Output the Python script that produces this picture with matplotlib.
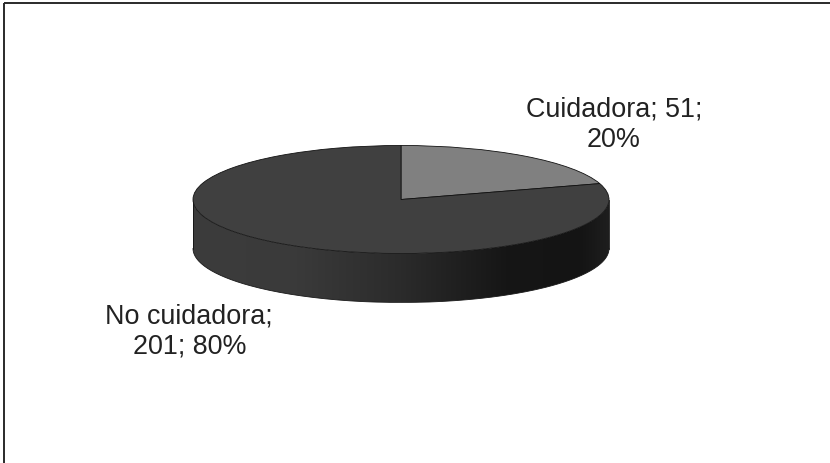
import numpy as np
import matplotlib
matplotlib.use("Agg")
import matplotlib.pyplot as plt
from matplotlib.colors import LinearSegmentedColormap
from matplotlib.patches import Polygon

plt.rcParams['font.family'] = ['Liberation Sans', 'DejaVu Sans']

categories = ["Cuidadora", "No cuidadora"]
values = [51, 201]
percents = [20, 80]
slice_colors = ["#808080", "#404040"]

W, H = 830, 464
cx, cy = 401, 200.5    # centre of the pie top
rx, ry = 208, 54       # radii of the flattened ellipse
depth = 49

fig = plt.figure(figsize=(W / 100, H / 100), dpi=100)
ax = fig.add_axes([0, 0, 1, 1])
ax.set_xlim(0, W)
ax.set_ylim(H, 0)
ax.axis("off")

# outer frame, only top and left are visible
ax.plot([4, 4], [H, 4], color="#2a2a2a", lw=1.4, solid_capstyle="butt")
ax.plot([4, W], [4, 4], color="#2a2a2a", lw=1.4, solid_capstyle="butt")

# side wall of the pie with a horizontal shading
t = np.linspace(0, np.pi, 200)
ex = cx + rx * np.cos(t)
ey = cy + ry * np.sin(t)
wall = np.concatenate([
    np.column_stack([ex, ey + depth]),
    np.column_stack([ex[::-1], ey[::-1]]),
])
shade = LinearSegmentedColormap.from_list("wall", [
    (0.0, "#3c3c3c"), (0.25, "#3a3a3a"), (0.5, "#2b2b2b"),
    (0.75, "#161616"), (0.93, "#141414"), (1.0, "#1e1e1e"),
])
im = ax.imshow(np.linspace(0, 1, 256).reshape(1, -1), cmap=shade, aspect="auto",
               extent=[cx - rx, cx + rx, cy + ry + depth, cy - ry], zorder=2)
ax.set_xlim(0, W)
ax.set_ylim(H, 0)
clip = Polygon(wall, closed=True, transform=ax.transData, fc="none", ec="none")
ax.add_patch(clip)
im.set_clip_path(clip)
ax.plot(np.r_[ex[0], ex[0]], [cy, cy + depth], color="#111111", lw=0.6, zorder=3)
ax.plot(np.r_[ex[-1], ex[-1]], [cy, cy + depth], color="#111111", lw=0.6, zorder=3)
ax.plot(ex, ey + depth, color="#1a1a1a", lw=0.6, zorder=3)

# pie top, stretched by an axes with free aspect
top = fig.add_axes([(cx - rx) / W, 1 - (cy + ry) / H, 2 * rx / W, 2 * ry / H])
top.pie(values, colors=slice_colors, startangle=90, counterclock=False, radius=1,
        wedgeprops={"edgecolor": "#111111", "linewidth": 0.6})
top.set_aspect("auto")
top.set_xlim(-1, 1)
top.set_ylim(-1, 1)
for w in top.patches:
    w.set_clip_on(False)
top.patch.set_alpha(0)

# labels
ax.text(614, 110, f"{categories[0]}; {values[0]};", ha="center", va="center",
        fontsize=19.4, color="#222222")
ax.text(614, 140, f"{percents[0]}%", ha="center", va="center",
        fontsize=19.4, color="#222222")
ax.text(189, 317, f"{categories[1]};", ha="center", va="center",
        fontsize=19.4, color="#222222")
ax.text(190, 347, f"{values[1]}; {percents[1]}%", ha="center", va="center",
        fontsize=19.4, color="#222222")

fig.savefig("out.png", dpi=100)
